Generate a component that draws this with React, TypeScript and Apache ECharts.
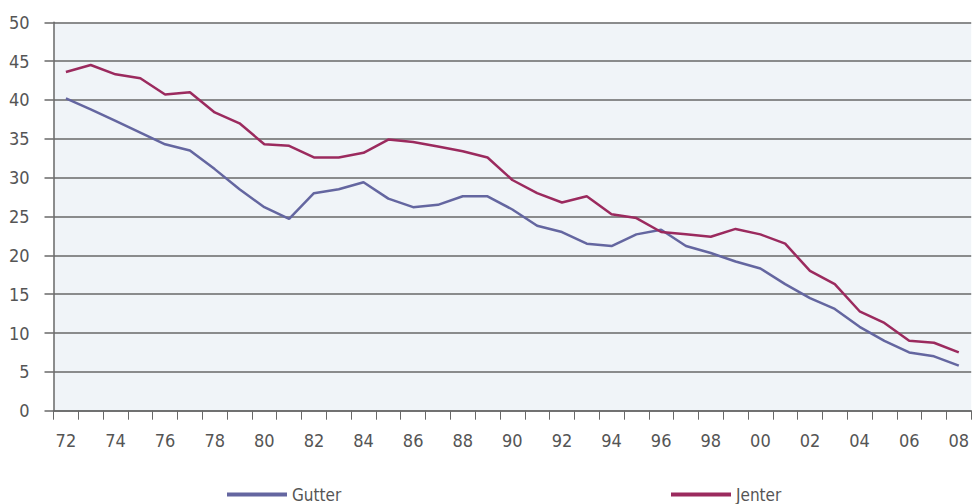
import React, { useEffect, useRef } from "react";
import * as echarts from "echarts";

const years = [
  "72","73","74","75","76","77","78","79","80","81","82","83","84","85","86","87","88","89",
  "90","91","92","93","94","95","96","97","98","99","00","01","02","03","04","05","06","07","08",
];
const gutter = [
  40.2, 38.8, 37.3, 35.8, 34.3, 33.5, 31.1, 28.5, 26.2, 24.7, 28.0, 28.5, 29.4, 27.3, 26.2, 26.5, 27.6, 27.6,
  25.9, 23.8, 23.0, 21.5, 21.2, 22.7, 23.3, 21.2, 20.3, 19.2, 18.3, 16.3, 14.5, 13.1, 10.8, 9.0, 7.5, 7.0, 5.8,
];
const jenter = [
  43.6, 44.5, 43.3, 42.8, 40.7, 41.0, 38.4, 37.0, 34.3, 34.1, 32.6, 32.6, 33.2, 34.9, 34.6, 34.0, 33.4, 32.6,
  29.7, 28.0, 26.8, 27.6, 25.3, 24.8, 23.0, 22.7, 22.4, 23.4, 22.7, 21.5, 18.0, 16.3, 12.8, 11.3, 9.0, 8.75, 7.5,
];
const yTicks = { min: 0, max: 50, interval: 5 };

const FONT = "'DejaVu Sans Condensed', 'Liberation Sans Narrow', sans-serif";
const TEXT = "#555555";
const GRIDC = "#686868";

export default function App() {
  const ref = useRef<HTMLDivElement>(null);
  useEffect(() => {
    if (!ref.current) return;
    const chart = echarts.init(ref.current, null, { renderer: "svg" });
    const legendCommon = {
      top: 481,
      icon: "rect",
      itemWidth: 60,
      itemHeight: 4,
      itemGap: 10,
      textStyle: { fontFamily: FONT, fontSize: 17, color: TEXT },
    };
    chart.setOption({
      animation: false,
      backgroundColor: "#ffffff",
      grid: {
        left: 53.5,
        right: -6.5,
        top: 22.3,
        bottom: 93.3,
        show: true,
        backgroundColor: "#f0f4f8",
        borderWidth: 0,
      },
      legend: [
        { ...legendCommon, data: ["Gutter"], left: 222 },
        { ...legendCommon, data: ["Jenter"], left: 666 },
      ],
      xAxis: {
        type: "category",
        data: years,
        boundaryGap: true,
        axisLine: { show: true, lineStyle: { color: GRIDC, width: 1.5 } },
        axisTick: { show: true, interval: 0, length: 9, lineStyle: { color: GRIDC, width: 1 } },
        axisLabel: {
          interval: 1,
          margin: 21,
          fontFamily: FONT,
          fontSize: 18,
          color: TEXT,
        },
        splitLine: { show: false },
      },
      yAxis: {
        type: "value",
        min: yTicks.min,
        max: yTicks.max,
        interval: yTicks.interval,
        axisLine: { show: true, lineStyle: { color: GRIDC, width: 1.5 } },
        axisTick: { show: true, length: 9, lineStyle: { color: GRIDC, width: 1.5 } },
        axisLabel: { margin: 24, fontFamily: FONT, fontSize: 18, color: TEXT },
        splitLine: { show: true, lineStyle: { color: GRIDC, width: 1.5 } },
      },
      series: [
        {
          name: "Gutter",
          type: "line",
          data: gutter,
          symbol: "none",
          color: "#6466a0",
          lineStyle: { color: "#6466a0", width: 2.5 },
        },
        {
          name: "Jenter",
          type: "line",
          data: jenter,
          symbol: "none",
          color: "#9b2a5e",
          lineStyle: { color: "#9b2a5e", width: 2.5 },
        },
      ],
    });
    return () => chart.dispose();
  }, []);
  return (
    <div
      ref={ref}
      style={{ position: "fixed", left: 0, top: 0, width: 972, height: 504 }}
    />
  );
}
